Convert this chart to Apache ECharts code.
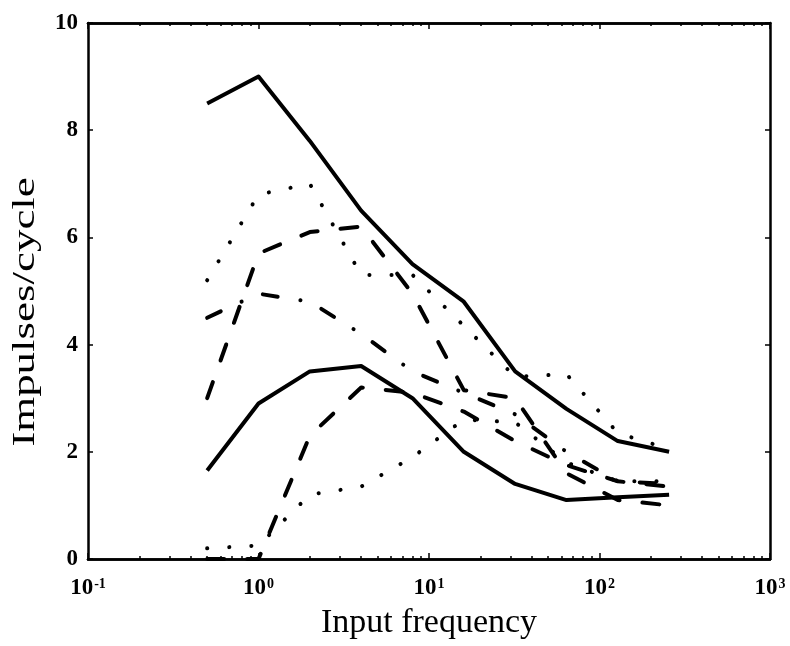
<!DOCTYPE html>
<html><head><meta charset="utf-8">
<script src="https://cdn.jsdelivr.net/npm/echarts@6/dist/echarts.min.js"></script>
<style>html,body{margin:0;padding:0;background:#fff}#c{width:790px;height:646px}</style>
</head><body><div id="c"></div>
<script>
// Input frequencies (x) and responses (Impulses/cycle)
const freqs = [0.5, 1, 2, 4, 8, 16, 32, 64, 128, 256];
const solidUpper   = [8.5, 9.0, 7.8, 6.5, 5.5, 4.8, 3.5, 2.8, 2.2, 2.0];
const solidLower   = [1.65, 2.9, 3.5, 3.6, 3.0, 2.0, 1.4, 1.1, 1.15, 1.2];
const dottedUpper  = [5.2, 6.8, 7.0, 5.3, 5.3, 4.35, 3.4, 3.45, 2.35, 2.05];
const dottedLower  = [0.2, 0.25, 1.2, 1.35, 1.9, 2.6, 2.55, 1.8, 1.45, 1.45];
const dashedUpper  = [3.0, 5.7, 6.1, 6.2, 4.95, 3.15, 3.0, 1.6, 1.1, 1.0];
const dashedLower  = [0.0, 0.0, 2.3, 3.2, 3.1, 2.75, 2.2, 1.75, 1.45, 1.35];
const dashDot      = [4.5, 4.95, 4.8, 4.2, 3.5, 3.1, 2.7, 2.0, 1.45, 1.4];

const xMajorTicks = [0.1, 1, 10, 100, 1000];
const xMinorTicks = [0.2,0.3,0.4,0.5,0.6,0.7,0.8,0.9, 2,3,4,5,6,7,8,9, 20,30,40,50,60,70,80,90, 200,300,400,500,600,700,800,900];
const yTicks = [0, 2, 4, 6, 8, 10];
const xTitle = 'Input frequency';
const yTitle = 'Impulses/cycle';

const FONT = '"Liberation Serif", "DejaVu Serif", serif';

function pairs(ys) { return freqs.map((f, i) => [f, ys[i]]); }

const styles = {
  solid:   { type: 'solid' },
  dotted:  { type: [0.1, 22], cap: 'round' },
  dashed:  { type: [17, 23], cap: 'round' },
  dashdot: { type: [15, 23, 0.1, 23], cap: 'round' }
};

function line(name, ys, st) {
  return {
    name, type: 'line', data: pairs(ys), showSymbol: false, silent: true,
    xAxisIndex: 0, yAxisIndex: 0,
    lineStyle: Object.assign({ color: '#000', width: 4, join: 'round' }, styles[st]),
    z: 3
  };
}

function xAxisBase(pos, ticks, len, showLabel) {
  return {
    type: 'log', logBase: 10, min: 0.1, max: 1000, position: pos,
    axisLine: { show: true, onZero: false, lineStyle: { color: '#000', width: 2.5 } },
    axisTick: { show: true, inside: true, length: len, customValues: ticks, lineStyle: { color: '#000', width: 1.5 } },
    splitLine: { show: false }, minorTick: { show: false },
    axisLabel: showLabel ? {
      show: true, customValues: xMajorTicks, margin: 18,
      formatter: v => '{b|10}{s|' + Math.round(Math.log10(v)) + '}',
      rich: {
        b: { fontFamily: FONT, fontSize: 23, fontWeight: 'bold', color: '#000' },
        s: { fontFamily: FONT, fontSize: 14, fontWeight: 'bold', color: '#000', verticalAlign: 'top', padding: [0, 0, 0, 1] }
      }
    } : { show: false }
  };
}

const xAxes = [
  Object.assign(xAxisBase('bottom', xMajorTicks, 6, true), {
    name: xTitle, nameLocation: 'middle', nameGap: 47,
    nameTextStyle: { fontFamily: FONT, fontSize: 34, color: '#000' }
  }),
  xAxisBase('bottom', xMinorTicks, 3, false),
  xAxisBase('top', xMajorTicks, 6, false),
  xAxisBase('top', xMinorTicks, 3, false)
];

function yAxisBase(pos, showLabel) {
  return {
    type: 'value', min: 0, max: 10, interval: 2, position: pos,
    axisLine: { show: true, onZero: false, lineStyle: { color: '#000', width: 2.5 } },
    axisTick: { show: true, inside: true, length: 5, customValues: yTicks, lineStyle: { color: '#000', width: 1.5 } },
    splitLine: { show: false },
    axisLabel: showLabel ? {
      show: true, margin: 10, fontFamily: FONT, fontSize: 23, fontWeight: 'bold', color: '#000'
    } : { show: false }
  };
}

const yAxes = [yAxisBase('left', true), yAxisBase('right', false)];

const chart = echarts.init(document.getElementById('c'), null, { renderer: 'canvas' });
chart.setOption({
  backgroundColor: '#fff',
  animation: false,
  grid: { left: 88, right: 20, top: 23, bottom: 87, containLabel: false },
  xAxis: xAxes,
  yAxis: yAxes,
  graphic: [{
    type: 'text', x: 26, y: 312, rotation: Math.PI / 2, scaleX: 1.45, scaleY: 1,
    silent: true,
    style: { text: yTitle, fontFamily: FONT, fontSize: 31, fill: '#000', align: 'center', verticalAlign: 'middle' }
  }],
  series: [
    line('solidUpper', solidUpper, 'solid'),
    line('solidLower', solidLower, 'solid'),
    line('dottedUpper', dottedUpper, 'dotted'),
    line('dottedLower', dottedLower, 'dotted'),
    line('dashedUpper', dashedUpper, 'dashed'),
    line('dashedLower', dashedLower, 'dashed'),
    line('dashDot', dashDot, 'dashdot')
  ]
});
</script>
</body></html>
